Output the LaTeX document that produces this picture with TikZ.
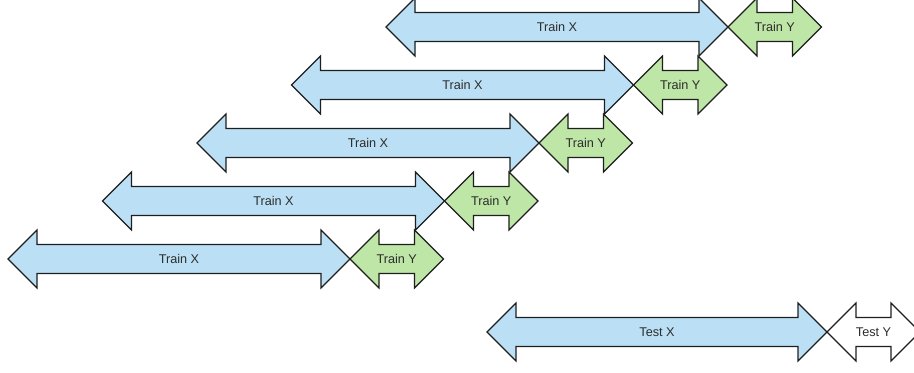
\documentclass[tikz,border=0pt]{standalone}
\usepackage{fontspec}
\setmainfont{Liberation Sans}
\definecolor{xblue}{RGB}{187,224,245}
\definecolor{ygreen}{RGB}{190,230,166}
\definecolor{edge}{RGB}{30,30,30}
\definecolor{txt}{RGB}{45,45,45}
\tikzset{
  arr/.style={draw=edge, line width=0.9pt, line join=miter},
  trainx/.style={arr, fill=xblue},
  trainy/.style={arr, fill=ygreen},
  testy/.style={arr, fill=white},
  lbl/.style={font=\fontsize{9.5}{11}\selectfont, text=txt, inner sep=0pt}
}
% #1 style, #2 name, #3 left tip, #4 right tip, #5 centre y, #6 label
\newcommand{\dblarr}[6]{%
  \draw[#1] (#3,#5) -- ++(29,-29) -- ++(0,14.5) -- ({#4-29},{#5-14.5})
    -- ++(0,-14.5) -- (#4,#5) -- ++(-29,29) -- ++(0,-14.5)
    -- ({#3+29},{#5+14.5}) -- ++(0,14.5) -- cycle;
  \node[lbl] (#2) at ({(#3+#4)/2},#5) {#6};}
\begin{document}
\begin{tikzpicture}[x=0.75pt, y=-0.75pt]
\useasboundingbox (0,0) rectangle (914,372);
\clip (0,0) rectangle (914,372);
\foreach \i in {0,...,4}{
  \pgfmathsetmacro\xa{8+94.5*\i}
  \pgfmathsetmacro\xb{\xa+342}
  \pgfmathsetmacro\xc{\xb+93.5}
  \pgfmathsetmacro\yy{259-58*\i}
  \dblarr{trainx}{trainx\i}{\xa}{\xb}{\yy}{Train X}
  \dblarr{trainy}{trainy\i}{\xb}{\xc}{\yy}{Train Y}
}
\dblarr{trainx}{testx}{487}{827}{332}{Test X}
\dblarr{testy}{testy}{827}{920}{332}{Test Y}
\end{tikzpicture}
\end{document}
